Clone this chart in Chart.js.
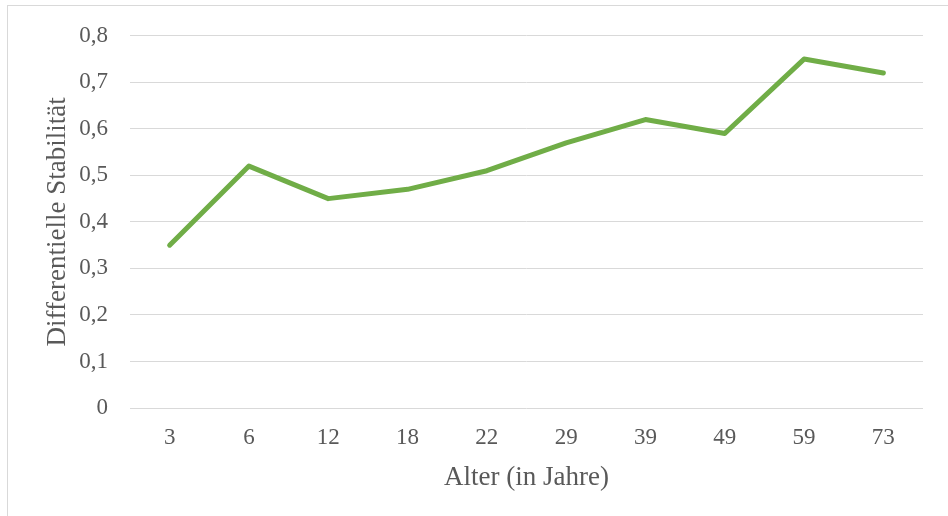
<!DOCTYPE html>
<html>
<head>
<meta charset="utf-8">
<script src="https://cdn.jsdelivr.net/npm/chart.js@4"></script>
<style>
  html, body { margin: 0; padding: 0; background: #fff; }
  #wrap { position: relative; width: 948px; height: 516px; overflow: hidden; }
  #frame { position: absolute; left: 7px; top: 5px; width: 960px; height: 530px; border: 1px solid #d9d9d9; box-sizing: border-box; }
  canvas { position: absolute; left: 0; top: 0; }
</style>
</head>
<body>
<div id="wrap">
  <div id="frame"></div>
  <canvas id="chart" width="948" height="516"></canvas>
</div>
<script>
const ages = ['3', '6', '12', '18', '22', '29', '39', '49', '59', '73'];
const stability = [0.35, 0.52, 0.45, 0.47, 0.51, 0.57, 0.62, 0.59, 0.75, 0.72];
const xTitle = 'Alter (in Jahre)';
const yTitle = 'Differentielle Stabilität';

const serif = '"Liberation Serif", "Times New Roman", serif';
const tickFont = { family: serif, size: 23 };
const titleFont = { family: serif, size: 27 };
const txt = '#595959';

new Chart(document.getElementById('chart'), {
    type: 'line',
    data: { labels: ages, datasets: [{ data: stability, borderColor: '#70ad47', borderWidth: 5, borderCapStyle: 'round', borderJoinStyle: 'round', pointRadius: 0, tension: 0, fill: false }] },
    options: {
        responsive: false, animation: false,
        layout: { padding: { left: 0, top: 35, right: 25, bottom: 0 } },
        plugins: { legend: { display: false }, tooltip: { enabled: false } },
        scales: {
            x: {
                offset: true,
                grid: { display: false, drawTicks: false },
                border: { display: false },
                ticks: { color: txt, font: tickFont, padding: 16, maxRotation: 0 },
                title: { display: true, text: xTitle, color: txt, font: titleFont, padding: { top: 0, bottom: 22 } },
                afterFit: s => { s.height = 108; }
            },
            y: {
                min: 0, max: 0.8,
                grid: { color: '#d9d9d9', lineWidth: 1, drawTicks: false },
                border: { display: false },
                ticks: { stepSize: 0.1, color: txt, font: tickFont, padding: 22,
                    callback: v => (Math.round(v * 10) / 10).toString().replace('.', ',') },
                title: { display: true, text: yTitle, color: txt, font: titleFont, padding: { top: 42, bottom: 0 } },
                afterFit: s => { s.width = 130; }
            }
        }
    }
});
</script>
</body>
</html>
